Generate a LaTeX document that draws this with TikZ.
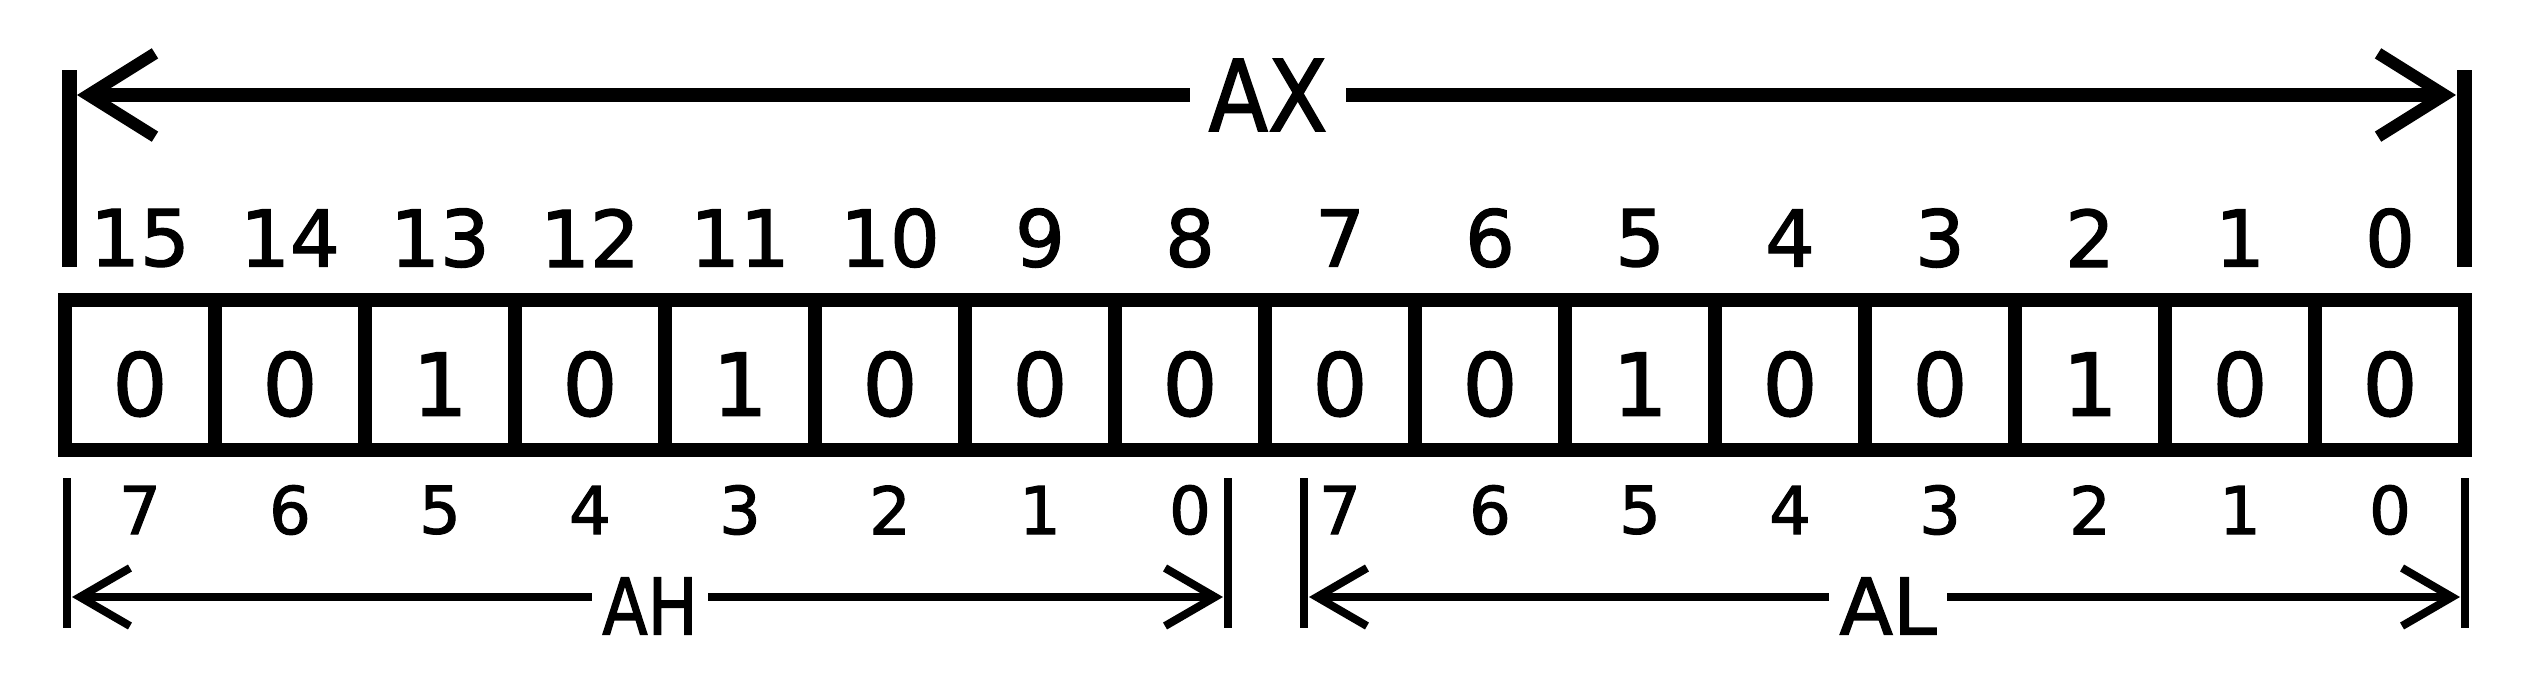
\documentclass[tikz,border=0pt]{standalone}
\usepackage{fontspec}
\usepackage{graphicx}
\setmainfont{DejaVu Sans}[BoldFont={DejaVu Sans},BoldFeatures={FakeBold=1.6}]
\usetikzlibrary{arrows.meta}
\begin{document}
\begin{tikzpicture}[x=0.3pt,y=-0.3pt,
  cell/.style={draw,line width=4pt,minimum width=45pt,minimum height=45pt,
    inner sep=0pt,outer sep=0pt,font=\fontsize{26pt}{30pt}\selectfont\bfseries,
    text height=24.4pt,text depth=0pt},
  topnum/.style={inner sep=0pt,font=\fontsize{23.5pt}{28pt}\selectfont\bfseries},
  lownum/.style={inner sep=0pt,font=\fontsize{19.75pt}{24pt}\selectfont\bfseries},
  bigbar/.style={line width=4.5pt},
  smallbar/.style={line width=2.5pt},
  biglabel/.style={inner xsep=5.4pt,inner ysep=0pt,font=\fontsize{29.6pt}{34pt}\selectfont\bfseries},
  smalllabel/.style={inner xsep=3pt,inner ysep=0pt,font=\fontsize{23.5pt}{28pt}\selectfont\bfseries},
  bigarrow/.style={line width=4pt,-{Straight Barb[length=20pt,width=25pt,line width=3.6pt]}},
  smallarrow/.style={line width=2.5pt,-{Straight Barb[length=15pt,width=17.4pt,line width=2.4pt]}}
]
\path[use as bounding box] (0,0) rectangle (2522,690);

% register cells
\foreach \v [count=\i from 0] in {0,0,1,0,1,0,0,0,0,0,1,0,0,1,0,0}
  \node[cell] (c\i) at ({140+150*\i},375) {\v};

% bit numbers of AX
\foreach \i in {0,...,15}{
  \pgfmathtruncatemacro\b{15-\i}
  \node[topnum] (t\i) at ({140+150*\i},238) {\b};
}
% bit numbers of AH / AL
\foreach \i in {0,...,15}{
  \pgfmathtruncatemacro\b{mod(15-\i,8)}
  \node[lownum] (b\i) at ({140+150*\i},510) {\b};
}

% AX bars and arrow
\coordinate (tlA) at (69,70);   \coordinate (tlB) at (69,267);
\coordinate (trA) at (2464,70); \coordinate (trB) at (2464,267);
\draw[bigbar] (tlA) -- (tlB);
\draw[bigbar] (trA) -- (trB);
\node[biglabel] (ax) at (1268,95) {\scalebox{0.88}[1]{AX}};
\coordinate (axl) at (77,95);
\coordinate (axr) at (2456,95);
\draw[bigarrow] (ax.west |- axl) -- (axl);
\draw[bigarrow] (ax.east |- axr) -- (axr);

% AH / AL bars and arrows
\coordinate (p1A) at (67,478);   \coordinate (p1B) at (67,628);
\coordinate (p2A) at (1228,478); \coordinate (p2B) at (1228,628);
\coordinate (p3A) at (1304,478); \coordinate (p3B) at (1304,628);
\coordinate (p4A) at (2465,478); \coordinate (p4B) at (2465,628);
\draw[smallbar] (p1A) -- (p1B);
\draw[smallbar] (p2A) -- (p2B);
\draw[smallbar] (p3A) -- (p3B);
\draw[smallbar] (p4A) -- (p4B);

\node[smalllabel] (ah) at (650,606) {\scalebox{0.85}[1]{AH}};
\node[smalllabel] (al) at (1888,606) {AL};
\coordinate (ah1) at (72,597);   \coordinate (ah2) at (1223,597);
\coordinate (al1) at (1309,597); \coordinate (al2) at (2460,597);
\draw[smallarrow] (ah.west |- ah1) -- (ah1);
\draw[smallarrow] (ah.east |- ah2) -- (ah2);
\draw[smallarrow] (al.west |- al1) -- (al1);
\draw[smallarrow] (al.east |- al2) -- (al2);
\end{tikzpicture}
\end{document}
